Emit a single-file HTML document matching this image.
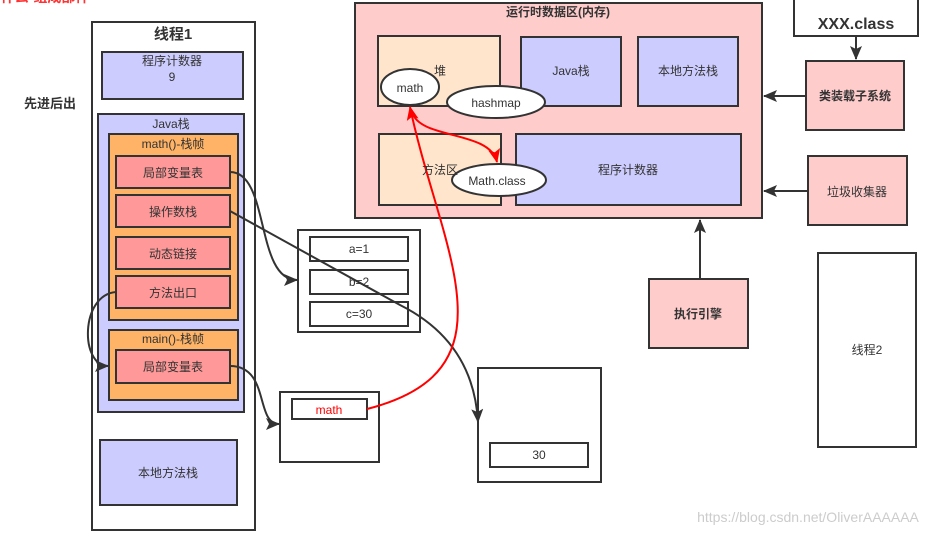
<!DOCTYPE html>
<html><head><meta charset="utf-8"><style>
html,body{margin:0;padding:0;background:#fff;}
svg text{font-family:"Liberation Sans","Noto Sans CJK SC",sans-serif;fill:#333;}
</style></head><body>
<svg width="945" height="534" viewBox="0 0 945 534" xmlns="http://www.w3.org/2000/svg">
<defs>
<marker id="ab" markerWidth="16" markerHeight="14" refX="13" refY="6" orient="auto" markerUnits="userSpaceOnUse"><path d="M0,0 L14,6 L0,12 L3,6 Z" fill="#333"/></marker>
<marker id="ar" markerWidth="16" markerHeight="14" refX="13" refY="6" orient="auto" markerUnits="userSpaceOnUse"><path d="M0,0 L14,6 L0,12 L3,6 Z" fill="#f00"/></marker>
</defs>
<g stroke="#333" stroke-width="2">
<rect x="92" y="22" width="163" height="508" fill="#fff"/>
<rect x="102" y="52" width="141" height="47" fill="#ccccff"/>
<rect x="98" y="114" width="146" height="298" fill="#ccccff"/>
<rect x="109" y="134" width="129" height="186" fill="#ffb366"/>
<rect x="116" y="156" width="114" height="32" fill="#ff9999"/>
<rect x="116" y="195" width="114" height="32" fill="#ff9999"/>
<rect x="116" y="237" width="114" height="32" fill="#ff9999"/>
<rect x="116" y="276" width="114" height="32" fill="#ff9999"/>
<rect x="109" y="330" width="129" height="70" fill="#ffb366"/>
<rect x="116" y="350" width="114" height="33" fill="#ff9999"/>
<rect x="100" y="440" width="137" height="65" fill="#ccccff"/>
<rect x="298" y="230" width="122" height="102" fill="#fff"/>
<rect x="310" y="237" width="98" height="24" fill="#fff"/>
<rect x="310" y="270" width="98" height="24" fill="#fff"/>
<rect x="310" y="302" width="98" height="24" fill="#fff"/>
<rect x="280" y="392" width="99" height="70" fill="#fff"/>
<rect x="292" y="399" width="75" height="20" fill="#fff"/>
<rect x="478" y="368" width="123" height="114" fill="#fff"/>
<rect x="490" y="443" width="98" height="24" fill="#fff"/>
<rect x="355" y="3" width="407" height="215" fill="#ffcccc"/>
<rect x="378" y="36" width="122" height="70" fill="#ffe5cc"/>
<rect x="521" y="37" width="100" height="69" fill="#ccccff"/>
<rect x="638" y="37" width="100" height="69" fill="#ccccff"/>
<rect x="379" y="134" width="122" height="71" fill="#ffe5cc"/>
<rect x="516" y="134" width="225" height="71" fill="#ccccff"/>
<ellipse cx="410" cy="87" rx="29" ry="18" fill="#fff"/>
<ellipse cx="496" cy="102" rx="49" ry="16" fill="#fff"/>
<ellipse cx="499" cy="180" rx="47" ry="16" fill="#fff"/>
<rect x="794" y="-2" width="124" height="38" fill="#fff"/>
<rect x="806" y="61" width="98" height="69" fill="#ffcccc"/>
<rect x="808" y="156" width="99" height="69" fill="#ffcccc"/>
<rect x="649" y="279" width="99" height="69" fill="#ffcccc"/>
<rect x="818" y="253" width="98" height="194" fill="#fff"/>
</g>
<g stroke="#333" stroke-width="2" fill="none">
<path d="M856,36 L856,59" marker-end="url(#ab)"/>
<path d="M806,96 L764,96" marker-end="url(#ab)"/>
<path d="M808,191 L764,191" marker-end="url(#ab)"/>
<path d="M700,279 L700,220" marker-end="url(#ab)"/>
<path d="M230,172 C270,172 255,280 297,280" marker-end="url(#ab)"/>
<path d="M230,211 L400,305 C450,330 475,370 478,422" marker-end="url(#ab)"/>
<path d="M116,292 C80,295 80,366 108,366" marker-end="url(#ab)"/>
<path d="M230,366 C270,366 255,424 279,424" marker-end="url(#ab)"/>
</g>
<g stroke="#f00" stroke-width="2" fill="none">
<path d="M367,409 C520,370 440,250 410,107" marker-end="url(#ar)"/>
<path d="M412,112 C420,140 490,130 497,162" marker-end="url(#ar)"/>
</g>
<g font-size="12" text-anchor="middle">
<text x="173" y="39" font-size="15" font-weight="bold">线程1</text>
<text x="172" y="65">程序计数器</text>
<text x="172" y="81">9</text>
<text x="50" y="108" font-size="13" font-weight="bold">先进后出</text>
<text x="171" y="128">Java栈</text>
<text x="173" y="148">math()-栈帧</text>
<text x="173" y="177">局部变量表</text>
<text x="173" y="216">操作数栈</text>
<text x="173" y="258">动态链接</text>
<text x="173" y="297">方法出口</text>
<text x="173" y="343">main()-栈帧</text>
<text x="173" y="371">局部变量表</text>
<text x="168" y="477">本地方法栈</text>
<text x="359" y="253">a=1</text>
<text x="359" y="286">b=2</text>
<text x="359" y="318">c=30</text>
<text x="329" y="414" style="fill:#f00">math</text>
<text x="539" y="459">30</text>
<text x="558" y="16" font-weight="bold">运行时数据区(内存)</text>
<text x="440" y="75">堆</text>
<text x="410" y="92">math</text>
<text x="496" y="107">hashmap</text>
<text x="571" y="75">Java栈</text>
<text x="688" y="75">本地方法栈</text>
<text x="440" y="174">方法区</text>
<text x="497" y="185">Math.class</text>
<text x="628" y="174">程序计数器</text>
<text x="856" y="29" font-size="16" font-weight="bold">XXX.class</text>
<text x="855" y="100" font-weight="bold">类装载子系统</text>
<text x="857" y="196">垃圾收集器</text>
<text x="698" y="318" font-weight="bold">执行引擎</text>
<text x="867" y="354">线程2</text>
<text x="808" y="522" font-size="14" style="fill:#ccc">https://blog.csdn.net/OliverAAAAAA</text>
<text x="45" y="2" font-size="14" font-weight="bold" style="fill:#f33">什么·组成部件</text>
</g>
</svg>
</body></html>
